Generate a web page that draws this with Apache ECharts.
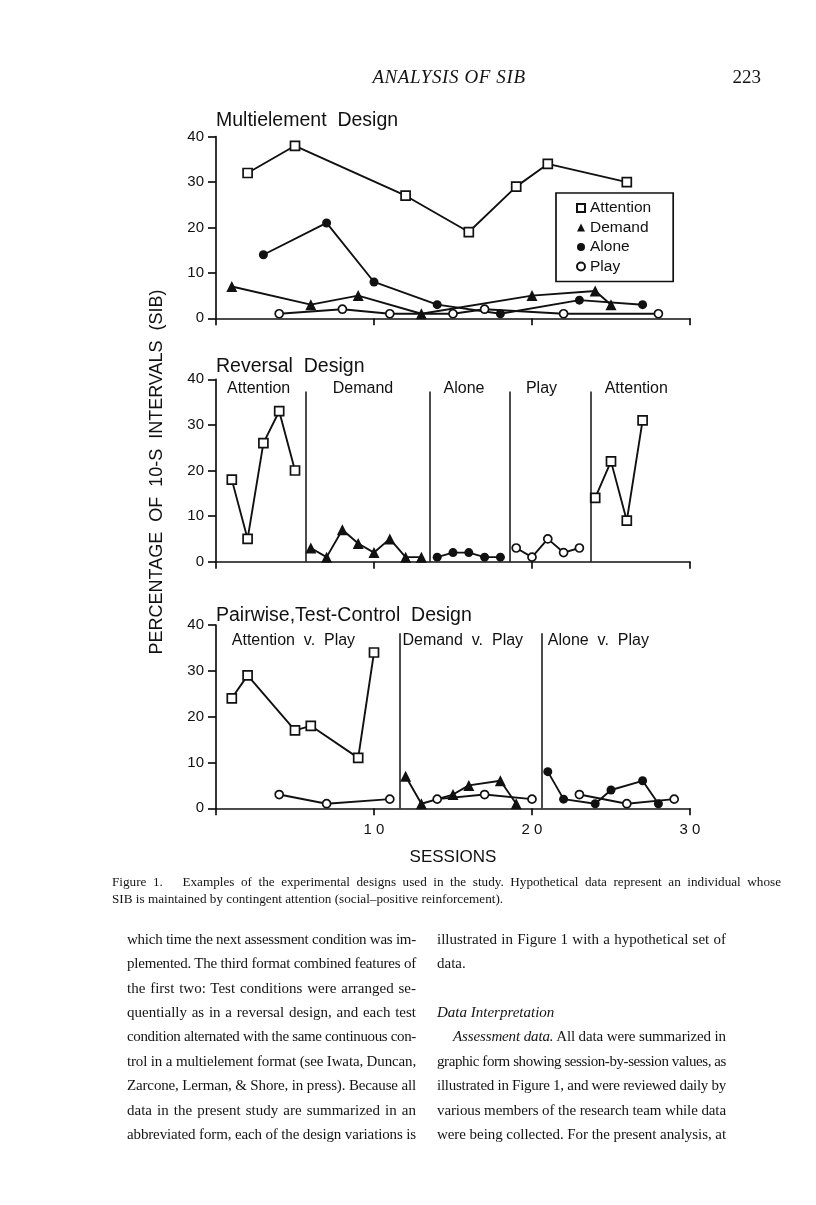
<!DOCTYPE html>
<html><head><meta charset="utf-8">
<script src="https://cdn.jsdelivr.net/npm/echarts@6/dist/echarts.min.js"></script>
<style>
html,body{margin:0;padding:0;background:#fff;}
#page{position:relative;width:816px;height:1205px;overflow:hidden;background:#fff;}
#chart{position:absolute;left:0;top:0;width:816px;height:1205px;}
.t{position:absolute;white-space:nowrap;font-family:"Liberation Serif","DejaVu Serif",serif;color:#141414;line-height:1;}
</style></head><body>
<div id="page"><div id="chart"></div><div id="text"></div></div>
<script>
// ---------------- DATA ----------------
const sessionTicks = [0, 10, 20, 30];
const percentTicks = [0, 10, 20, 30, 40];

// Panel 1: Multielement design  [session, percent]
const multiAttention = [[2,32],[5,38],[12,27],[16,19],[19,29],[21,34],[26,30]];
const multiDemand    = [[1,7],[6,3],[9,5],[13,1],[20,5],[24,6],[25,3]];
const multiAlone     = [[3,14],[7,21],[10,8],[14,3],[18,1],[23,4],[27,3]];
const multiPlay      = [[4,1],[8,2],[11,1],[15,1],[17,2],[22,1],[28,1]];

// Panel 2: Reversal design
const revAttentionA = [[1,18],[2,5],[3,26],[4,33],[5,20]];
const revDemand     = [[6,3],[7,1],[8,7],[9,4],[10,2],[11,5],[12,1],[13,1]];
const revAlone      = [[14,1],[15,2],[16,2],[17,1],[18,1]];
const revPlay       = [[19,3],[20,1],[21,5],[22,2],[23,3]];
const revAttentionB = [[24,14],[25,22],[26,9],[27,31]];
const revPhaseLines = [5.7, 13.5, 18.6, 23.7];
const revPhaseTop = 37.3;
const revPhaseNames = ['Attention','Demand','Alone','Play','Attention'];
const revPhaseNameX = [2.7, 9.3, 15.7, 20.6, 26.6];
const revPhaseNameY = 37.9;

// Panel 3: Pairwise, test-control design
const pwAttention = [[1,24],[2,29],[5,17],[6,18],[9,11],[10,34]];
const pwPlayA     = [[4,3],[7,1],[11,2]];
const pwDemand    = [[12,7],[13,1],[15,3],[16,5],[18,6],[19,1]];
const pwPlayB     = [[14,2],[17,3],[20,2]];
const pwAlone     = [[21,8],[22,2],[24,1],[25,4],[27,6],[28,1]];
const pwPlayC     = [[23,3],[26,1],[29,2]];
const pwPhaseLines = [11.6, 20.6];
const pwPhaseTop = 38.2;
const pwPhaseNames = ['Attention  v.  Play','Demand  v.  Play','Alone  v.  Play'];
const pwPhaseNameX = [1.0, 11.8, 21.0];
const pwPhaseNameY = 36.5;

const panelTitles = ['Multielement  Design','Reversal  Design','Pairwise,Test-Control  Design'];
const yAxisTitle = 'PERCENTAGE  OF  10-S  INTERVALS  (SIB)';
const xAxisTitle = 'SESSIONS';
const legendNames = ['Attention','Demand','Alone','Play'];

// ---------------- STYLE ----------------
const SANS = '"Liberation Sans", Arial, Helvetica, sans-serif';
const INK = '#111';
const markerStyle = {
  Attention: {symbol:'rect', symbolSize:9, itemStyle:{color:'#fff', borderColor:INK, borderWidth:1.7, opacity:1}},
  Demand:    {symbol:'triangle', symbolSize:11, itemStyle:{color:INK, borderColor:INK, borderWidth:0, opacity:1}},
  Alone:     {symbol:'circle', symbolSize:9, itemStyle:{color:INK, borderColor:INK, borderWidth:0, opacity:1}},
  Play:      {symbol:'circle', symbolSize:8, itemStyle:{color:'#fff', borderColor:INK, borderWidth:1.7, opacity:1}}
};
function lineSeries(name, data, gi) {
  const m = markerStyle[name];
  return {
    type:'line', name, data, xAxisIndex:gi, yAxisIndex:gi,
    symbol:m.symbol, symbolSize:m.symbolSize, itemStyle:m.itemStyle,
    showSymbol:true, showAllSymbol:true,
    lineStyle:{color:INK, width:1.9}, emphasis:{disabled:true}, silent:true, z:3
  };
}
function phaseSeries(gi, lines, top, names, xs, y, pos) {
  return {
    type:'scatter', xAxisIndex:gi, yAxisIndex:gi, symbolSize:0, silent:true,
    itemStyle:{opacity:1, color:INK},
    data: names.map((n,i)=>({name:n, value:[xs[i], y]})),
    label:{show:true, formatter:'{b}', position:pos, distance:0, opacity:1,
      fontFamily:SANS, fontSize:16, color:INK},
    markLine:{silent:true, symbol:['none','none'], label:{show:false},
      lineStyle:{color:INK, width:1.5, type:'solid', opacity:1}, animation:false,
      data: lines.map(x => [{coord:[x,0]},{coord:[x,top]}])},
    z:2
  };
}
const gridBoxes = [
  {left:216, top:136.7, width:474, height:181.6},
  {left:216, top:379.3, width:474, height:182.4},
  {left:216, top:625,   width:474, height:183.3}
];
const titleTops = [110.5, 356.2, 605.2];

const xAxes = gridBoxes.map((g,i)=>({
  type:'value', gridIndex:i, min:sessionTicks[0], max:sessionTicks[sessionTicks.length-1],
  interval:sessionTicks[1]-sessionTicks[0],
  axisLine:{show:true, onZero:false, lineStyle:{color:INK, width:1.7}},
  axisTick:{show:true, inside:false, length:7, lineStyle:{color:INK, width:1.7}},
  splitLine:{show:false},
  axisLabel:{show:i===2, margin:14, fontFamily:SANS, fontSize:15, color:INK,
    formatter:v => v === 0 ? '' : String(v).split('').join(' ')},
  name: i===2 ? xAxisTitle : '', nameLocation:'middle', nameGap:41,
  nameTextStyle:{fontFamily:SANS, fontSize:17, color:INK}
}));
const yAxes = gridBoxes.map((g,i)=>({
  type:'value', gridIndex:i, min:percentTicks[0], max:percentTicks[percentTicks.length-1],
  interval:percentTicks[1]-percentTicks[0],
  axisLine:{show:true, lineStyle:{color:INK, width:1.7}},
  axisTick:{show:true, inside:false, length:8, lineStyle:{color:INK, width:1.7}},
  splitLine:{show:false},
  axisLabel:{show:true, margin:12, fontFamily:SANS, fontSize:15, color:INK}
}));

const series = [
  lineSeries('Attention', multiAttention, 0),
  lineSeries('Demand', multiDemand, 0),
  lineSeries('Alone', multiAlone, 0),
  lineSeries('Play', multiPlay, 0),
  lineSeries('Attention', revAttentionA, 1),
  lineSeries('Demand', revDemand, 1),
  lineSeries('Alone', revAlone, 1),
  lineSeries('Play', revPlay, 1),
  lineSeries('Attention', revAttentionB, 1),
  phaseSeries(1, revPhaseLines, revPhaseTop, revPhaseNames, revPhaseNameX, revPhaseNameY, 'inside'),
  lineSeries('Attention', pwAttention, 2),
  lineSeries('Play', pwPlayA, 2),
  lineSeries('Demand', pwDemand, 2),
  lineSeries('Play', pwPlayB, 2),
  lineSeries('Alone', pwAlone, 2),
  lineSeries('Play', pwPlayC, 2),
  phaseSeries(2, pwPhaseLines, pwPhaseTop, pwPhaseNames, pwPhaseNameX, pwPhaseNameY, 'right')
];

const chart = echarts.init(document.getElementById('chart'), null, {renderer:'canvas'});
chart.setOption({
  animation:false,
  backgroundColor:'transparent',
  grid: gridBoxes.map(g=>Object.assign({containLabel:false}, g)),
  xAxis: xAxes,
  yAxis: yAxes,
  title: panelTitles.map((t,i)=>({text:t, left:216, top:titleTops[i], padding:0,
    textStyle:{fontFamily:SANS, fontSize:19.5, fontWeight:'normal', color:INK}})),
  legend: {
    orient:'vertical', left:556, top:193, padding:[7,22,7,20], itemGap:3.5,
    itemWidth:8, itemHeight:8, borderColor:INK, borderWidth:1.7, selectedMode:false,
    textStyle:{fontFamily:SANS, fontSize:15.5, color:INK, lineHeight:16},
    data: legendNames.map(n=>({name:n, icon:markerStyle[n].symbol}))
  },
  graphic: [{
    type:'text', x:157, y:472, rotation:Math.PI/2, silent:true,
    style:{text:yAxisTitle, fontFamily:SANS, fontSize:18, fill:INK, align:'center', verticalAlign:'middle'}
  }],
  series
});

// ---------------- PAGE TEXT ----------------
const headerTitle = 'ANALYSIS OF SIB';
const pageNumber = '223';
const captionLines = [
  'Figure 1.&nbsp;&nbsp; Examples of the experimental designs used in the study. Hypothetical data represent an individual whose',
  'SIB is maintained by contingent attention (social–positive reinforcement).'
];
const leftColumn = [
  'which time the next assessment condition was im-',
  'plemented. The third format combined features of',
  'the first two: Test conditions were arranged se-',
  'quentially as in a reversal design, and each test',
  'condition alternated with the same continuous con-',
  'trol in a multielement format (see Iwata, Duncan,',
  'Zarcone, Lerman, &amp; Shore, in press). Because all',
  'data in the present study are summarized in an',
  'abbreviated form, each of the design variations is'
];
const rightColumn = [
  ['illustrated in Figure 1 with a hypothetical set of', true, 0],
  ['data.', false, 0],
  ['', false, 0],
  ['<i>Data Interpretation</i>', false, 0],
  ['<i>Assessment data.</i> All data were summarized in', true, 16],
  ['graphic form showing session-by-session values, as', true, 0],
  ['illustrated in Figure 1, and were reviewed daily by', true, 0],
  ['various members of the research team while data', true, 0],
  ['were being collected. For the present analysis, at', true, 0]
];

const host = document.getElementById('text');
function place(html, left, centerY, fontSize, width, justify) {
  const d = document.createElement('div');
  d.className = 't';
  d.innerHTML = html;
  d.style.fontSize = fontSize + 'px';
  d.style.left = left + 'px';
  d.style.top = (centerY - fontSize * 0.55) + 'px';
  host.appendChild(d);
  if (justify && width) {
    const w = d.getBoundingClientRect().width;
    const diff = width - w;
    const txt = d.textContent;
    const spaces = (txt.match(/[ \u00a0]/g) || []).length;
    if (diff >= 0 && spaces > 0) d.style.wordSpacing = (diff / spaces) + 'px';
    else if (diff < 0) d.style.letterSpacing = (diff / txt.length) + 'px';
  }
  return d;
}
// running head
const hd = place('<i>' + headerTitle + '</i>', 299, 77, 19, 0, false);
hd.style.width = '300px'; hd.style.textAlign = 'center'; hd.style.letterSpacing = '0.6px';
const pn = place(pageNumber, 680, 77, 19, 0, false);
pn.style.width = '81px'; pn.style.textAlign = 'right';
// caption
place(captionLines[0], 112, 882, 13.2, 669, true);
place(captionLines[1], 112, 899, 13.2, 0, false);
// body
const lineY0 = 940, pitch = 24.4, colW = 289;
leftColumn.forEach((l,i)=> place(l, 127, lineY0 + i*pitch, 15, colW, true));
rightColumn.forEach((r,i)=> { if (r[0]) place(r[0], 437 + r[2], lineY0 + i*pitch, 15, colW - r[2], r[1]); });
</script>
</body></html>
